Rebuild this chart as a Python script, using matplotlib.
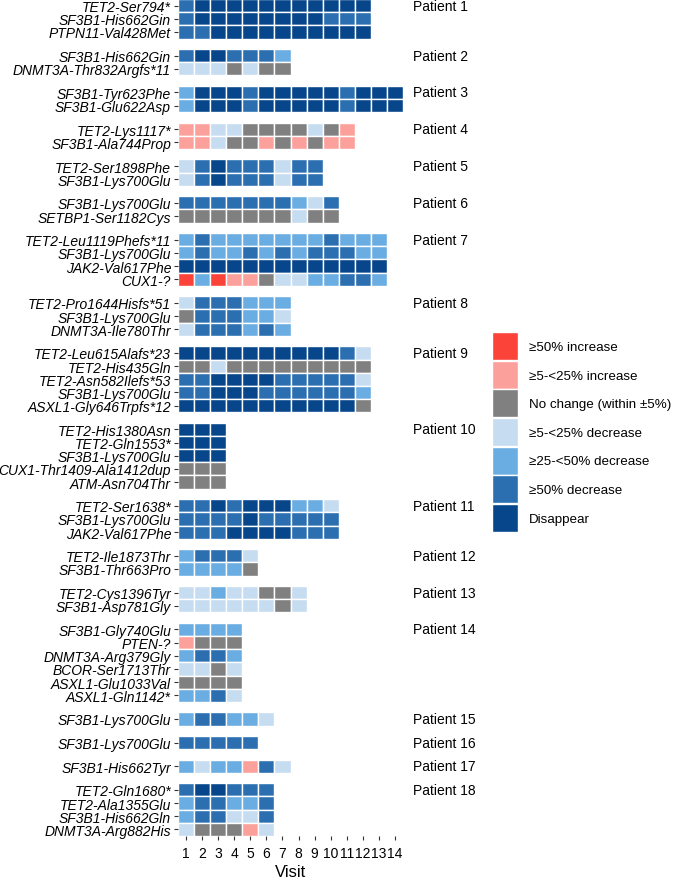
import matplotlib
matplotlib.use("Agg")
import matplotlib.pyplot as plt
from matplotlib.patches import Patch

plt.rcParams['font.family'] = ['Liberation Sans', 'DejaVu Sans']

# change categories (legend order) and colours
categories = ["≥50% increase", "≥5-<25% increase", "No change (within ±5%)",
              "≥5-<25% decrease", "≥25-<50% decrease", "≥50% decrease", "Disappear"]
codes = ["R", "P", "G", "L", "M", "D", "X"]
colors = ["#FB4339", "#FCA09B", "#808080", "#C6DCF1", "#6AADE2", "#2B6FB1", "#08468C"]

# one letter per visit, read left to right
p1_genes = ["TET2-Ser794*", "SF3B1-His662Gin", "PTPN11-Val428Met"]
p1_calls = ["DXXXXXXXXXXX", "DXXXXXXXXDDD", "DDXXXXXXXXXX"]
p2_genes = ["SF3B1-His662Gin", "DNMT3A-Thr832Argfs*11"]
p2_calls = ["DXXDDDM", "LLLGLGG"]
p3_genes = ["SF3B1-Tyr623Phe", "SF3B1-Glu622Asp"]
p3_calls = ["MXXXDXXXXXDXXX", "MXXXDXXXXXDXXX"]
p4_genes = ["TET2-Lys1117*", "SF3B1-Ala744Prop"]
p4_calls = ["PPLLGGGGLGP", "PPLGGPGPGPP"]
p5_genes = ["TET2-Ser1898Phe", "SF3B1-Lys700Glu"]
p5_calls = ["LDXDDDLDD", "LDXDDDLDD"]
p6_genes = ["SF3B1-Lys700Glu", "SETBP1-Ser1182Cys"]
p6_calls = ["DDDDDDDMLD", "GGGGGGGLGG"]
p7_genes = ["TET2-Leu1119Phefs*11", "SF3B1-Lys700Glu", "JAK2-Val617Phe", "CUX1-?"]
p7_calls = ["MDMMMMMMMDMMM", "MDMMDMDMDDDMM", "XXXXXXXXXXXXX", "RMRPPGLLMMDDM"]
p8_genes = ["TET2-Pro1644Hisfs*51", "SF3B1-Lys700Glu", "DNMT3A-Ile780Thr"]
p8_calls = ["LDDDMMM", "GDDDMML", "LDDDMDM"]
p9_genes = ["TET2-Leu615Alafs*23", "TET2-His435Gln", "TET2-Asn582Ilefs*53",
            "SF3B1-Lys700Glu", "ASXL1-Gly646Trpfs*12"]
p9_calls = ["XXXXXXXXXXDL", "GGLGGGGGGGGG", "DDXXXXDDDDDL", "DDXXXDDDDDDM", "XXXXXXXXXXXG"]
p10_genes = ["TET2-His1380Asn", "TET2-Gln1553*", "SF3B1-Lys700Glu",
             "CUX1-Thr1409-Ala1412dup", "ATM-Asn704Thr"]
p10_calls = ["XXX", "XXX", "XXX", "GGG", "GGG"]
p11_genes = ["TET2-Ser1638*", "SF3B1-Lys700Glu", "JAK2-Val617Phe"]
p11_calls = ["DDXDXXXMML", "DDDDXDDDDD", "DDDXXXXDDD"]
p12_genes = ["TET2-Ile1873Thr", "SF3B1-Thr663Pro"]
p12_calls = ["MDDDL", "MMMMG"]
p13_genes = ["TET2-Cys1396Tyr", "SF3B1-Asp781Gly"]
p13_calls = ["LLMLLGGL", "LLLLLLGL"]
p14_genes = ["SF3B1-Gly740Glu", "PTEN-?", "DNMT3A-Arg379Gly", "BCOR-Ser1713Thr",
             "ASXL1-Glu1033Val", "ASXL1-Gln1142*"]
p14_calls = ["MMMM", "PGGG", "MDDM", "LLGL", "GGGG", "MMDL"]
p15_genes = ["SF3B1-Lys700Glu"]
p15_calls = ["MDDMML"]
p16_genes = ["SF3B1-Lys700Glu"]
p16_calls = ["DDDDD"]
p17_genes = ["SF3B1-His662Tyr"]
p17_calls = ["MLMMPDL"]
p18_genes = ["TET2-Gln1680*", "TET2-Ala1355Glu", "SF3B1-His662Gln", "DNMT3A-Arg882His"]
p18_calls = ["DXXDDD", "MDDMMD", "MDDLLD", "LGGGPL"]

groups = [
    ("Patient 1", p1_genes, p1_calls), ("Patient 2", p2_genes, p2_calls),
    ("Patient 3", p3_genes, p3_calls), ("Patient 4", p4_genes, p4_calls),
    ("Patient 5", p5_genes, p5_calls), ("Patient 6", p6_genes, p6_calls),
    ("Patient 7", p7_genes, p7_calls), ("Patient 8", p8_genes, p8_calls),
    ("Patient 9", p9_genes, p9_calls), ("Patient 10", p10_genes, p10_calls),
    ("Patient 11", p11_genes, p11_calls), ("Patient 12", p12_genes, p12_calls),
    ("Patient 13", p13_genes, p13_calls), ("Patient 14", p14_genes, p14_calls),
    ("Patient 15", p15_genes, p15_calls), ("Patient 16", p16_genes, p16_calls),
    ("Patient 17", p17_genes, p17_calls), ("Patient 18", p18_genes, p18_calls),
]

color_of = dict(zip(codes, colors))
gap = 0.79  # space between patient panels, in rows

fig = plt.figure(figsize=(6.73, 8.79), dpi=100)
ax = fig.add_axes([178 / 673, 42 / 879, 225 / 673, 837 / 879])

ys, labels = [], []
row = 0
for gi, (patient, genes, calls) in enumerate(groups):
    top = row + gi * gap
    for gene, call in zip(genes, calls):
        y = row + gi * gap
        visits = list(range(1, len(call) + 1))
        ax.barh([y] * len(call), 1, left=[v - 0.5 for v in visits], height=1,
                color=[color_of[c] for c in call], edgecolor='white', linewidth=1.0)
        ys.append(y)
        labels.append(gene)
        row += 1
    ax.text(1.044, top, patient, transform=ax.get_yaxis_transform(),
            ha='left', va='center', fontsize=10, clip_on=False)

ax.set_xlim(0.5, 14.5)
ax.set_ylim(row - 0.5 + (len(groups) - 1) * gap, -0.5)
ax.set_yticks(ys)
ax.set_yticklabels(labels, fontstyle='italic', fontsize=10.0)
ax.set_xticks(range(1, 15))
ax.tick_params(axis='x', labelsize=10, length=3, width=0.8, color='#333333', pad=4)
ax.tick_params(axis='y', length=3, width=0.8, color='#333333', pad=2)
ax.set_xlabel('Visit', fontsize=12, labelpad=3)
for s in ax.spines.values():
    s.set_visible(False)

handles = [Patch(facecolor=c, edgecolor='white', linewidth=1.0) for c in colors]
fig.legend(handles, categories, loc='upper left',
           bbox_to_anchor=(492 / 673, 1 - 333 / 879), frameon=False,
           borderpad=0, borderaxespad=0, handlelength=1.95, handleheight=2.85,
           labelspacing=0.05, handletextpad=0.8, fontsize=9.6)

fig.savefig('out.png', dpi=100)
